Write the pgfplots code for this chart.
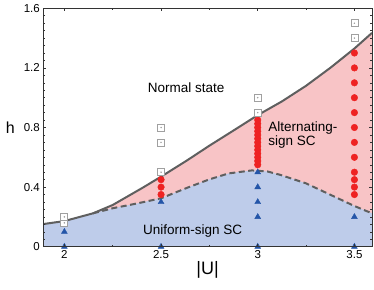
\documentclass[border=0pt]{standalone}
\usepackage{pgfplots}
\pgfplotsset{compat=1.18}
\usepackage{fontspec}
\setmainfont{Liberation Sans}
\definecolor{pinkfill}{RGB}{248,196,198}
\definecolor{bluefill}{RGB}{190,204,234}
\definecolor{linegray}{RGB}{95,95,95}
\definecolor{sqgray}{RGB}{160,160,160}
\definecolor{reddot}{RGB}{238,34,34}
\definecolor{bluetri}{RGB}{36,85,168}
\begin{document}
\begin{tikzpicture}
\useasboundingbox (-43.3pt,-42.3pt) rectangle (330.7pt,246.7pt);
\begin{axis}[
  scale only axis, width=328.7pt, height=238.4pt,
  xmin=1.891, xmax=3.591, ymin=0, ymax=1.6,
  xtick={2,2.5,3,3.5}, minor x tick num=1,
  ytick={0,0.4,0.8,1.2,1.6}, minor y tick num=7,
  tick align=inside, major tick length=3pt, minor tick length=2pt,
  axis line style={black!80, line width=0.6pt},
  every tick/.style={black!80, line width=0.5pt},
  tick label style={font=\fontsize{11.5}{13}\selectfont},
  /pgf/number format/assume math mode=true,
  xlabel={|U|}, ylabel={h},
  xlabel style={font=\fontsize{18}{20}\selectfont, at={(axis description cs:0.5,0)}, anchor=center, yshift=-23pt},
  ylabel style={font=\fontsize{16}{18}\selectfont, rotate=-90, at={(axis description cs:0,0.5)}, anchor=center, xshift=-33pt},
  axis on top, clip mode=individual,
]
% pink region (under solid boundary)
\addplot[fill=pinkfill, draw=none] coordinates {
 (1.891,0.152) (2.0,0.172) (2.148,0.224) (2.25,0.28) (2.4,0.392) (2.5,0.47) (2.633,0.578)
 (2.75,0.678) (2.875,0.78) (3.0,0.883) (3.125,0.975) (3.25,1.08) (3.375,1.2) (3.5,1.33) (3.591,1.435)
} \closedcycle;
% blue region (under dashed boundary)
\addplot[fill=bluefill, draw=none] coordinates {
 (1.891,0.152) (2.0,0.172) (2.148,0.224) (2.25,0.258) (2.375,0.29) (2.5,0.325) (2.634,0.395)
 (2.75,0.452) (2.85,0.492) (2.97,0.512) (3.05,0.505) (3.117,0.482) (3.25,0.425) (3.38,0.346)
 (3.5,0.273) (3.591,0.224)
} \closedcycle;
% dashed boundary
\addplot[linegray, line width=2pt, dash pattern=on 6pt off 3.5pt] coordinates {
 (2.148,0.224) (2.25,0.258) (2.375,0.29) (2.5,0.325) (2.634,0.395)
 (2.75,0.452) (2.85,0.492) (2.97,0.512) (3.05,0.505) (3.117,0.482) (3.25,0.425) (3.38,0.346)
 (3.5,0.273) (3.591,0.224)
};
% solid boundary
\addplot[linegray, line width=2pt] coordinates {
 (1.891,0.152) (2.0,0.172) (2.148,0.224) (2.25,0.28) (2.4,0.392) (2.5,0.47) (2.633,0.578)
 (2.75,0.678) (2.875,0.78) (3.0,0.883) (3.125,0.975) (3.25,1.08) (3.375,1.2) (3.5,1.33) (3.591,1.435)
};
% uniform-sign SC (triangles)
\addplot[only marks, mark=triangle*, mark size=3.4pt, color=bluetri] coordinates {
 (2,0) (2,0.1) (2.5,0) (2.5,0.3) (3,0) (3,0.2) (3,0.3) (3,0.4) (3,0.5) (3.5,0) (3.5,0.2)
};
% alternating-sign SC (red dots)
\addplot[only marks, mark=*, mark size=3.3pt, color=reddot] coordinates {
 (2.5,0.35) (2.5,0.4) (2.5,0.45)
 (3,0.55) (3,0.575) (3,0.6) (3,0.625) (3,0.65) (3,0.675) (3,0.7) (3,0.725) (3,0.75) (3,0.775) (3,0.8) (3,0.825) (3,0.85)
 (3.5,0.35) (3.5,0.4) (3.5,0.45) (3.5,0.5) (3.5,0.6) (3.5,0.7) (3.5,0.8) (3.5,0.9) (3.5,1.0) (3.5,1.1) (3.5,1.2) (3.5,1.3)
};
% normal state (squares)
\addplot[only marks, mark=square*, mark size=3.5pt, color=sqgray, mark options={fill=white, line width=0.8pt}] coordinates {
 (2,0.16) (2,0.2) (2.5,0.5) (2.5,0.7) (2.5,0.8) (3,0.9) (3,1.0) (3.5,1.4) (3.5,1.5)
};
\addplot[only marks, mark=*, mark size=0.5pt, color=sqgray] coordinates {
 (2,0.16) (2,0.2) (2.5,0.5) (2.5,0.7) (2.5,0.8) (3,0.9) (3,1.0) (3.5,1.4) (3.5,1.5)
};
\node[font=\fontsize{13.5}{15}\selectfont] at (axis cs:2.63,1.07) {Normal state};
\node[font=\fontsize{13.5}{15}\selectfont, anchor=west, align=left, inner sep=0pt] at (axis cs:3.054,0.75) {Alternating-\\[-1pt]sign SC};
\node[font=\fontsize{13.5}{15}\selectfont] at (axis cs:2.663,0.105) {Uniform-sign SC};
\end{axis}
\end{tikzpicture}
\end{document}
